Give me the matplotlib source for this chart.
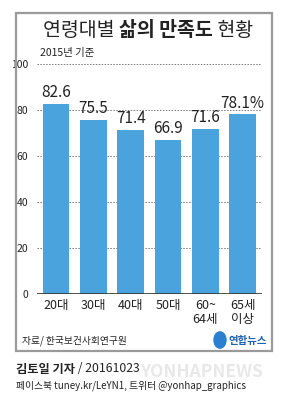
import matplotlib
matplotlib.use('Agg')
import matplotlib.pyplot as plt
from matplotlib.patches import Rectangle, Circle

# data
groups = ['20대', '30대', '40대', '50대', '60~\n64세', '65세\n이상']
values = [82.6, 75.5, 71.4, 66.9, 71.6, 78.1]
labels = ['82.6', '75.5', '71.4', '66.9', '71.6', '78.1%']
yticks = [0, 20, 40, 60, 80, 100]

W, H = 295, 401
NUM = ['Liberation Sans Narrow', 'Noto Sans CJK KR', 'DejaVu Sans']
KR = ['Noto Sans CJK KR', 'DejaVu Sans']


def fx(px):
    return px / W


def fy(py):
    return 1 - py / H


def chain(fig, x, y, parts, **kw):
    # place text pieces one after another starting at pixel x
    r = fig.canvas.get_renderer()
    for txt, extra in parts:
        opts = dict(kw)
        opts.update(extra)
        t = fig.text(fx(x), fy(y), txt, ha='left', va='center', **opts)
        x += t.get_window_extent(r).width
    return x


fig = plt.figure(figsize=(W / 100, H / 100), dpi=100)
fig.patch.set_facecolor('white')

# outer frame
fig.patches.append(Rectangle((fx(16), fy(351)), fx(271.5) - fx(16), fy(13) - fy(351),
                             transform=fig.transFigure, fill=False,
                             edgecolor='#9a9a9a', linewidth=1.6))

ax = fig.add_axes([fx(36.7), fy(293.5), fx(261.7) - fx(36.7), fy(64) - fy(293.5)])
ax.bar(range(len(values)), values, width=0.715, color='#4ba3de', zorder=3)
ax.set_xlim(-0.52, 5.51)
ax.set_ylim(0, 100)

for i, (v, t) in enumerate(zip(values, labels)):
    ax.text(i, v + 1.2, t, ha='center', va='bottom', fontsize=11,
            family=NUM, color='#222222')

for y in yticks[1:]:
    ax.axhline(y, color='#777777', linestyle=(0, (1.5, 1.5)), linewidth=0.7, zorder=1)
ax.axhline(0, color='#333333', linewidth=1.2, zorder=4)

for s in ax.spines.values():
    s.set_visible(False)
ax.set_yticks(yticks)
ax.set_yticklabels([str(y) for y in yticks], family=NUM, fontsize=7.5, color='#222222')
ax.tick_params(axis='y', length=0, pad=6)
ax.set_xticks(range(len(groups)))
ax.set_xticklabels(groups, family=NUM, fontsize=9, color='#222222', linespacing=1.05)
ax.tick_params(axis='x', length=0, pad=4)

# title
chain(fig, 43, 30, [('연령대별 ', {}), ('삶의 만족도', {'weight': 'bold'}), (' 현황', {})],
      fontsize=14, family=KR, color='#222222')

fig.text(fx(40), fy(53), '2015년 기준', ha='left', va='center', fontsize=7.5,
         family=KR, style='italic', color='#222222')

# source and logo
fig.text(fx(22), fy(341), '자료/ 한국보건사회연구원', ha='left', va='center', fontsize=7,
         family=KR, style='italic', color='#222222')
fig.patches.append(Circle((fx(220), fy(340)), 6 / W, transform=fig.transFigure,
                          color='#2a7fd0'))
fig.text(fx(228), fy(341), '연합뉴스', ha='left', va='center', fontsize=7.5,
         family=KR, weight='bold', color='#1e63b0')

# watermark
fig.text(fx(202), fy(372), 'YONHAPNEWS', ha='center', va='center', fontsize=12.5,
         family=NUM, weight='bold', color='#e8e8e8', zorder=0)

# credits
chain(fig, 16, 369, [('김토일 기자', {'weight': 'bold', 'family': KR}), (' / 20161023', {})],
      fontsize=8.8, family=NUM, color='#222222')
fig.text(fx(16), fy(386), '페이스북 tuney.kr/LeYN1, 트위터 @yonhap_graphics',
         ha='left', va='center', fontsize=7, family=NUM, color='#222222')

fig.savefig('out.png', dpi=100, facecolor='white')
